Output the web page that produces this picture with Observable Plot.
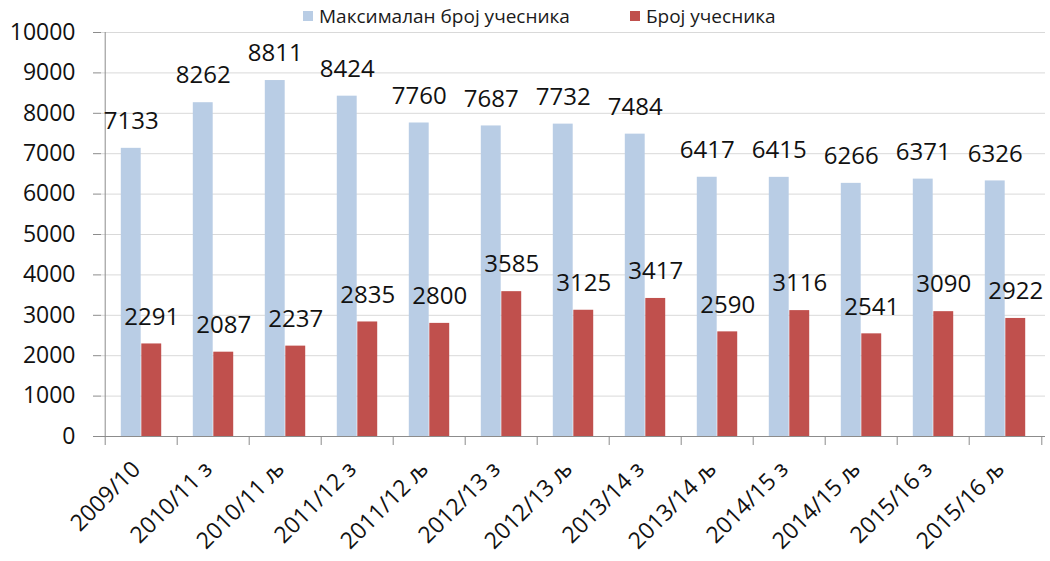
<!DOCTYPE html>
<html>
<head>
<meta charset="utf-8">
<script src="https://cdn.jsdelivr.net/npm/d3@7"></script>
<script src="https://cdn.jsdelivr.net/npm/@observablehq/plot@0.6"></script>
<style>
  html, body { margin: 0; padding: 0; background: #fff; }
  body { width: 1050px; height: 561px; overflow: hidden; font-family: "Open Sans", sans-serif; }
  #legend { height: 24px; display: flex; align-items: flex-start; font-size: 19px; line-height: 24px; color: #1a1a1a; padding-left: 303px; box-sizing: border-box; }
  #legend .sw { width: 10px; height: 10px; display: inline-block; margin-right: 6px; }
  #legend .item { display: flex; align-items: center; position: relative; top: 4px; }
  svg { display: block; }
</style>
</head>
<body>
<div id="legend"></div>
<div id="chart"></div>
<script>
const categories = ["2009/10", "2010/11 з", "2010/11 љ", "2011/12 з", "2011/12 љ", "2012/13 з", "2012/13 љ", "2013/14 з", "2013/14 љ", "2014/15 з", "2014/15 љ", "2015/16 з", "2015/16 љ"];
const maxParticipants = [7133, 8262, 8811, 8424, 7760, 7687, 7732, 7484, 6417, 6415, 6266, 6371, 6326];
const participants = [2291, 2087, 2237, 2835, 2800, 3585, 3125, 3417, 2590, 3116, 2541, 3090, 2922];
const seriesNames = ["Максималан број учесника", "Број учесника"];
const seriesColors = ["#B9CDE5", "#C0504D"];
const yTicks = [0, 1000, 2000, 3000, 4000, 5000, 6000, 7000, 8000, 9000, 10000];

const data = categories.map((c, i) => ({cat: c, max: maxParticipants[i], count: participants[i]}));

// legend
const legend = document.getElementById("legend");
seriesNames.forEach((name, i) => {
  const item = document.createElement("span");
  item.className = "item";
  item.style.marginRight = i === 0 ? "60px" : "0";
  const sw = document.createElement("span");
  sw.className = "sw";
  sw.style.background = seriesColors[i];
  const t = document.createElement("span");
  t.textContent = name;
  item.appendChild(sw); item.appendChild(t);
  legend.appendChild(item);
});

const W = 1050, H = 537;
const mL = 101, mR = 5, mT = 8, mB = 125;
const step = (W - mL - mR) / categories.length;
const barW = step * 0.2825;

const chart = Plot.plot({
  width: W, height: H,
  marginLeft: mL, marginRight: mR, marginTop: mT, marginBottom: mB,
  style: {fontFamily: "Open Sans, sans-serif", background: "#fff", overflow: "visible"},
  x: {domain: categories, padding: 0, label: null},
  y: {domain: [0, 10000], label: null},
  marks: [
    Plot.ruleY(yTicks.filter(d => d > 0), {stroke: "#d9d9d9", strokeWidth: 1}),
    Plot.barY(data, {x: "cat", y: "max", fill: seriesColors[0], insetLeft: step / 2 - barW, insetRight: step / 2}),
    Plot.barY(data, {x: "cat", y: "count", fill: seriesColors[1], insetLeft: step / 2, insetRight: step / 2 - barW}),
    Plot.ruleY([0], {stroke: "#8c8c8c", strokeWidth: 1}),
    Plot.ruleX([categories[0]], {dx: -step / 2, y1: 0, y2: 10000, stroke: "#8c8c8c"}),
    Plot.ruleX(categories, {dx: -step / 2, y1: 0, y2: 0, insetBottom: -9, stroke: "#8c8c8c"}),
    Plot.ruleX([categories[categories.length - 1]], {dx: step / 2, y1: 0, y2: 0, insetBottom: -9, stroke: "#8c8c8c"}),
    Plot.text(data, {x: "cat", y: "max", text: d => String(d.max), dx: -barW / 2, dy: -27, fontSize: 24, fill: "#111"}),
    Plot.text(data, {x: "cat", y: "count", text: d => String(d.count), dx: barW / 2, dy: -27, fontSize: 24, fill: "#111"}),
    Plot.axisY({ticks: yTicks, tickSize: 8, tickPadding: 18, fontSize: 23, stroke: "#8c8c8c", color: "#111", tickFormat: d => String(d)}),
    Plot.axisX({tickRotate: -45, tickSize: 0, tickPadding: 29, dx: -5, fontSize: 23, color: "#111"})
  ]
});
document.getElementById("chart").appendChild(chart);
</script>
</body>
</html>
